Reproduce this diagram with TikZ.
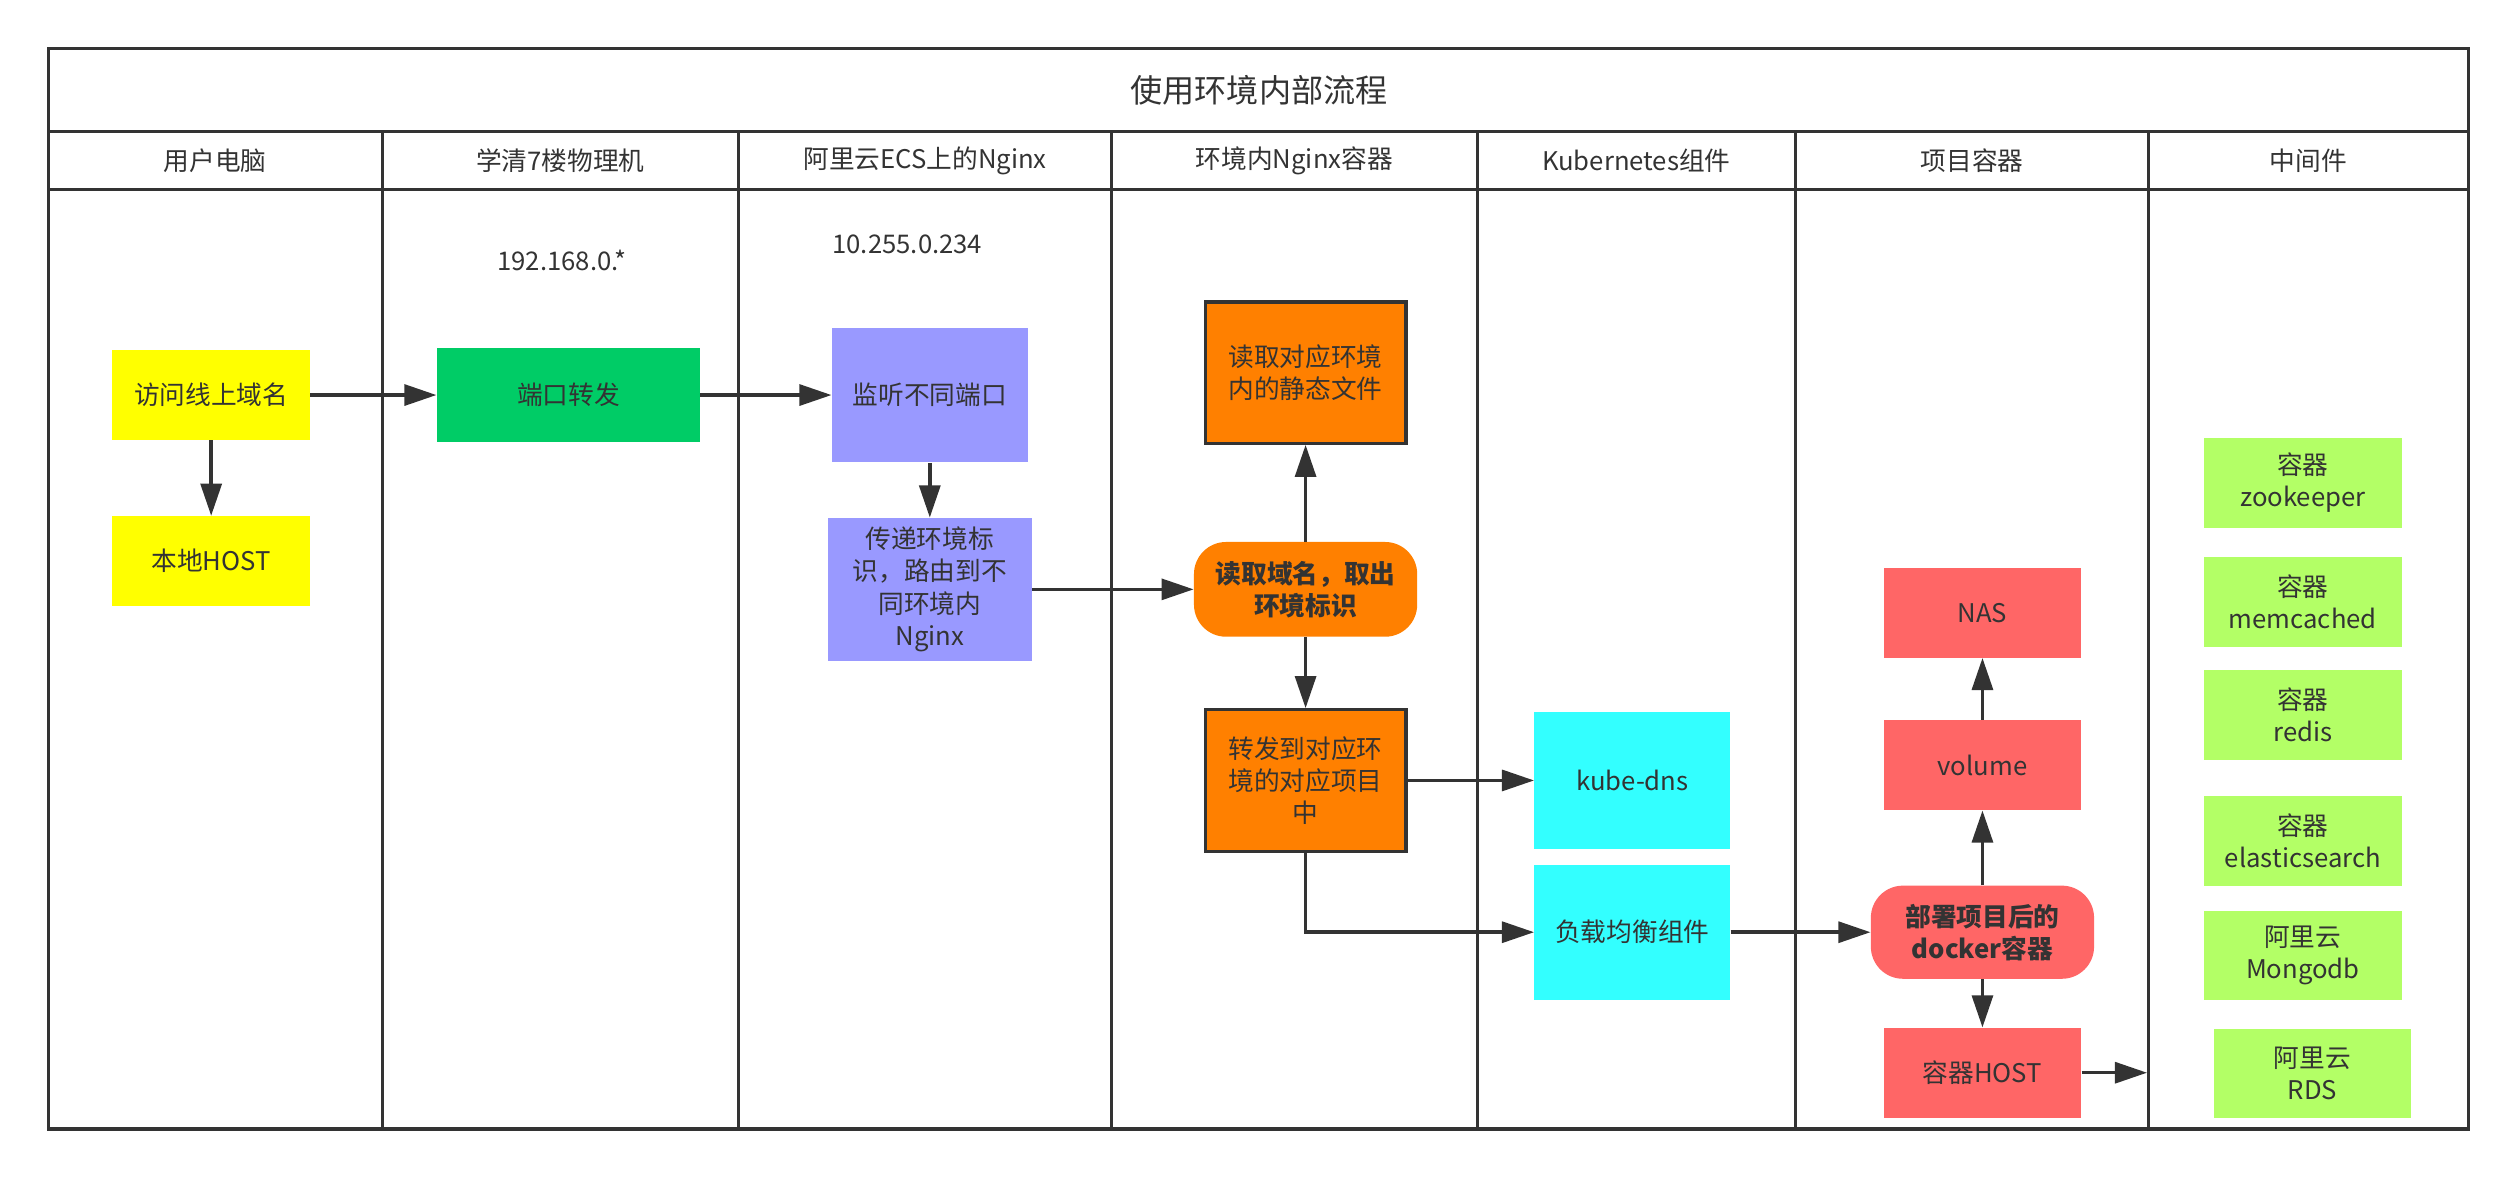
\documentclass[tikz,border=0pt]{standalone}
\usepackage{fontspec}
\setmainfont{Noto Sans CJK SC}
\usetikzlibrary{arrows.meta,positioning}
\definecolor{ink}{HTML}{333333}
\definecolor{hostyellow}{HTML}{FFFF00}
\definecolor{fwdgreen}{HTML}{00CC66}
\definecolor{ecspurple}{HTML}{9999FF}
\definecolor{nginxorange}{HTML}{FF8000}
\definecolor{k8scyan}{HTML}{33FFFF}
\definecolor{projred}{HTML}{FF6666}
\definecolor{mwgreen}{HTML}{B3FF66}

\begin{document}
\begin{tikzpicture}[x=1pt,y=-1pt,
  every node/.style={font=\fontsize{16}{20}\selectfont,text=ink,align=center,inner sep=0pt},%
  box/.style={minimum width=123pt,minimum height=56pt},%
  b/.style={draw=ink,line width=2pt},%
  r/.style={rounded corners=20pt,font=\fontsize{16}{20}\selectfont\bfseries},%
  lane/.style={draw=ink,line width=2pt},%
  e/.style={-{Triangle[length=20pt,width=13pt]},line width=2.2pt,draw=ink},%
  ]
  \useasboundingbox (0,0) rectangle (1568,735);

  % swimlane frame
  \draw[lane] (30,30) rectangle (1537,703);
  \draw[lane] (30,82) -- (1537,82);
  \draw[lane] (30,118) -- (1537,118);
  \foreach \x in {238,460,692,920,1118,1338}
    \draw[lane] (\x,82) -- (\x,703);

  \node (title) at (784,56) [font=\fontsize{20}{24}\selectfont] {使用环境内部流程};
  \node (hpc) at (134,100) {用户电脑};
  \node (hlab) at (349,100) {学清7楼物理机};
  \node (hecs) at (576,100) {阿里云ECS上的Nginx};
  \node (hnginx) at (806,100) {环境内Nginx容器};
  \node (hk8s) at (1019,100) {Kubernetes组件};
  \node (hproj) at (1228,100) {项目容器};
  \node (hmw) at (1437.5,100) {中间件};

  \node (labip) at (350,162) {192.168.0.*};
  \node (ecsip) at (565,152) {10.255.0.234};

  % user pc
  \node (visit) at (131.5,246) [box,fill=hostyellow] {访问线上域名};
  \node (localhost) [box,fill=hostyellow,below=47pt of visit] {本地HOST};

  % lab machine
  \node (forward) at (354,246) [box,fill=fwdgreen,minimum width=164pt,minimum height=58pt] {端口转发};

  % ecs nginx
  \node (listen) at (579,246) [box,fill=ecspurple,minimum width=122pt,minimum height=84pt] {监听不同端口};
  \node (route) at (579,367) [box,fill=ecspurple,minimum width=127pt,minimum height=89pt]
  {传递环境标\\识，路由到不\\同环境内\\Nginx};

  % nginx container
  \node (static) at (813,232) [box,b,fill=nginxorange,minimum width=125pt,minimum height=88pt]
  {读取对应环境\\内的静态文件};
  \node (parse) at (813,367) [box,r,fill=nginxorange,minimum width=139pt,minimum height=59pt]
  {读取域名，取出\\环境标识};
  \node (dispatch) at (813,486) [box,b,fill=nginxorange,minimum width=125pt,minimum height=88pt]
  {转发到对应环\\境的对应项目\\中};

  % kubernetes
  \node (kubedns) at (1016.5,486) [box,fill=k8scyan,minimum width=122pt,minimum height=85pt] {kube-dns};
  \node (balancer) at (1016.5,580.5) [box,fill=k8scyan,minimum width=122pt,minimum height=84pt] {负载均衡组件};

  % project containers
  \node (nas) at (1234.5,381.5) [box,fill=projred] {NAS};
  \node (volume) at (1234.5,476.5) [box,fill=projred] {volume};
  \node (docker) at (1234.5,580.5) [box,r,fill=projred,minimum width=139pt,minimum height=58pt]
  {部署项目后的\\docker容器};
  \node (host) at (1234.5,668) [box,fill=projred] {容器HOST};

  % middleware
  \node (zk) at (1434,300.5) [box,fill=mwgreen] {容器\\zookeeper};
  \node (mc) at (1434,375) [box,fill=mwgreen] {容器\\memcached};
  \node (redis) at (1434,445) [box,fill=mwgreen] {容器\\redis};
  \node (es) at (1434,523.5) [box,fill=mwgreen] {容器\\elasticsearch};
  \node (mongo) at (1434,595) [box,fill=mwgreen] {阿里云\\Mongodb};
  \node (rds) at (1440,668.5) [box,fill=mwgreen] {阿里云\\RDS};

  \coordinate (mwedge) at (1337,668);

  \draw [e] (visit) -- (forward);
  \draw [e] (forward) -- (listen);
  \draw [e] (visit) -- (localhost);
  \draw [e] (listen) -- (route);
  \draw [e] (route) -- (parse);
  \draw [e] (parse) -- (static);
  \draw [e] (parse) -- (dispatch);
  \draw [e] (dispatch) -- (kubedns);
  \draw [e] (dispatch) |- (balancer);
  \draw [e] (balancer) -- (docker);
  \draw [e] (docker) -- (volume);
  \draw [e] (volume) -- (nas);
  \draw [e] (docker) -- (host);
  \draw [e] (host) -- (mwedge);
\end{tikzpicture}
\end{document}
